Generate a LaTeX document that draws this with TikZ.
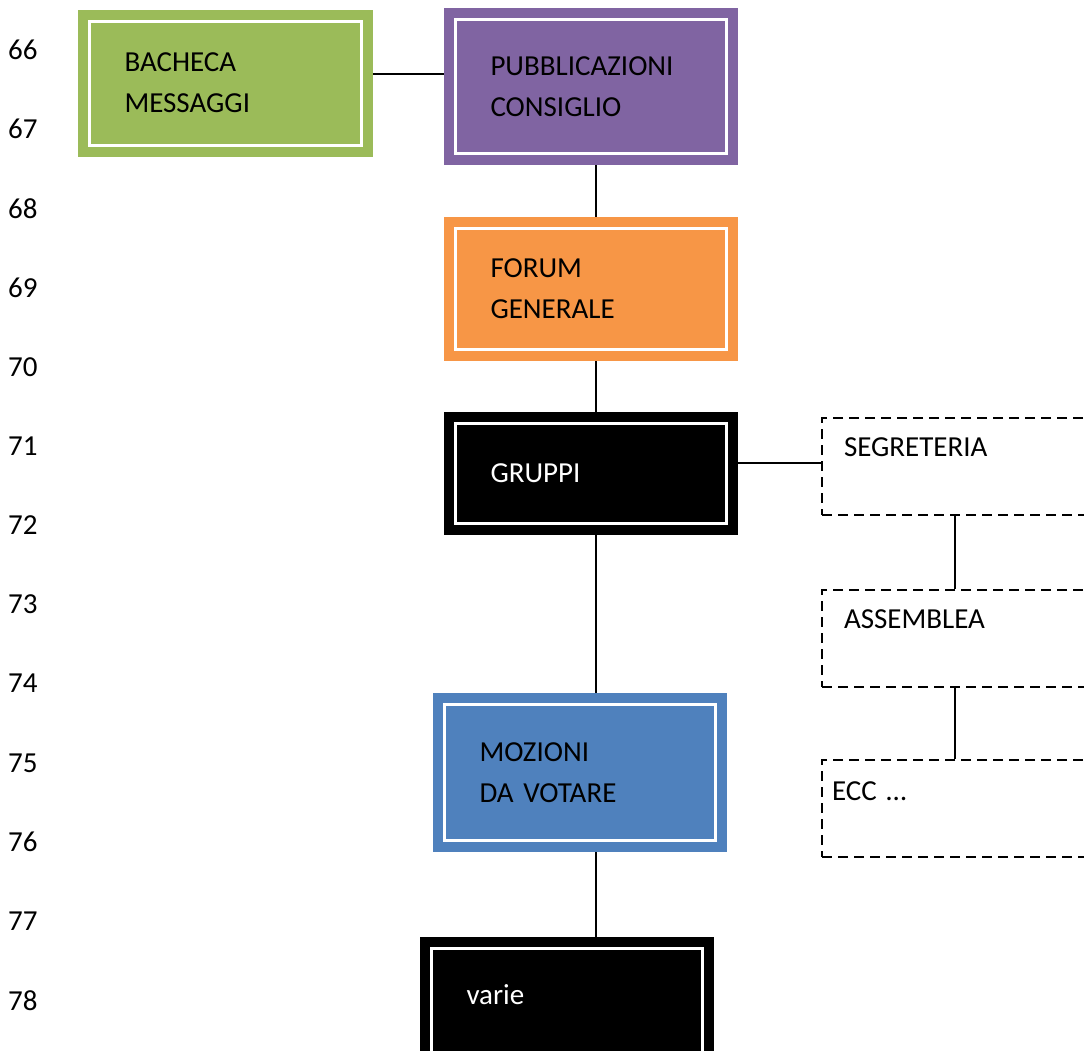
\documentclass[tikz,border=0pt]{standalone}
\usepackage{fontspec}
\setmainfont{Carlito}
\usetikzlibrary{calc}
\pgfdeclarelayer{bg}
\pgfsetlayers{bg,main}
\definecolor{bachgreen}{HTML}{9BBB59}
\definecolor{pubbpurple}{HTML}{8064A2}
\definecolor{forumorange}{HTML}{F79646}
\definecolor{mozblue}{HTML}{4F81BD}
\tikzset{
    every node/.style={font=\fontsize{29}{41}\selectfont}
}
\tikzset{
    box/.style={rectangle, fill=#1, draw=white, line width=3pt,
        preaction={draw=#1, line width=23pt}, outer sep=11.5pt,
        inner xsep=35pt, inner ysep=0pt, align=left,
        minimum width=271pt, text width=201pt},
    sub/.style={rectangle, draw, line width=2pt, dash pattern=on 10pt off 6pt,
        minimum width=266pt, text width=222pt, inner xsep=22pt, inner ysep=0pt,
        text height=38pt, text depth=59pt, align=left},
    conn/.style={line width=2pt}
}

\begin{document}
\begin{tikzpicture}
    \useasboundingbox (0pt, 0pt) rectangle (1084pt, -1050pt);

    \foreach \n [count=\i from 0] in {66,...,78}
        \node (l\n) [anchor=west, inner sep=0pt] at (8pt, -50pt-79.2pt*\i) {\n};

    \node (bach) [box=bachgreen, minimum width=272pt, minimum height=124pt] at (225pt, -83pt) {BACHECA\\MESSAGGI};
    \node (pubb) [box=pubbpurple, minimum height=134pt] at (591pt, -86.5pt) {PUBBLICAZIONI\\CONSIGLIO};
    \node (forum) [box=forumorange, minimum height=121pt] at (591pt, -289pt) {FORUM\\GENERALE};
    \node (grup) [box=black, text=white, minimum height=100pt] at (591pt, -473.5pt) {GRUPPI};
    \node (moz) [box=mozblue, minimum height=136pt] at (580pt, -772.5pt) {MOZIONI\\DA VOTARE};
    \node (varie) [box=black, text=white, anchor=north, text height=56pt, text depth=70pt] at (567pt, -937pt) {varie};

    \node (segr) [sub] at (955pt, -466.5pt) {SEGRETERIA};
    \node (ass) [sub] at (955pt, -638.5pt) {ASSEMBLEA};
    \node (ecc) [sub, inner xsep=10pt, text width=246pt, text height=40pt, text depth=57pt] at (955pt, -808.5pt) {ECC …};

    \coordinate (spine) at (596pt, 0pt);
    \coordinate (bline) at (0pt, -74pt);
    \coordinate (gline) at (0pt, -463pt);

    \begin{pgfonlayer}{bg}
        \draw[conn] (bach.east |- bline) -- (pubb.west |- bline);
        \draw[conn] (spine |- pubb.south) -- (spine |- forum.north);
        \draw[conn] (spine |- forum.south) -- (spine |- grup.north);
        \draw[conn] (spine |- grup.south) -- (spine |- moz.north);
        \draw[conn] (spine |- moz.south) -- (spine |- varie.north);

        \draw[conn] (grup.east |- gline) -- (segr.west |- gline);
        \draw[conn] (segr.south) -- (ass.north);
        \draw[conn] (ass.south) -- (ecc.north);
    \end{pgfonlayer}
\end{tikzpicture}
\end{document}
